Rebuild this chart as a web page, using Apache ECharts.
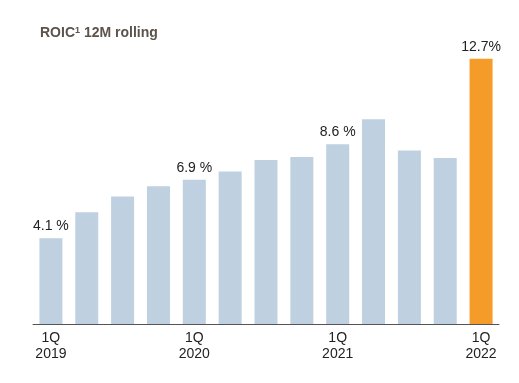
<!DOCTYPE html>
<html><head><meta charset="utf-8">
<script src="https://cdn.jsdelivr.net/npm/echarts@6/dist/echarts.min.js"></script>
<style>html,body{margin:0;padding:0;background:#fff}#c{width:519px;height:383px}</style>
</head><body><div id="c"></div>
<script>
const categories = ['1Q\n2019','2Q 2019','3Q 2019','4Q 2019','1Q\n2020','2Q 2020','3Q 2020','4Q 2020','1Q\n2021','2Q 2021','3Q 2021','4Q 2021','1Q\n2022'];
const values = [4.1, 5.35, 6.1, 6.6, 6.9, 7.3, 7.85, 8.0, 8.6, 9.8, 8.3, 7.95, 12.7];
const labelTexts = ['4.1 %','','','','6.9 %','','','','8.6 %','','','','12.7%'];
const shownTicks = [0, 4, 8, 12];
const highlightIndex = 12;

const chart = echarts.init(document.getElementById('c'));
chart.setOption({
  animation: false,
  title: {
    text: '{b|ROIC}{s|1}{b| 12M rolling}',
    left: 40, top: 26, padding: 0,
    textStyle: { rich: {
      b: { fontFamily: 'Liberation Sans', fontWeight: 'bold', fontSize: 14, color: '#5b534c' },
      s: { fontFamily: 'Liberation Sans', fontWeight: 'bold', fontSize: 9, color: '#5b534c', verticalAlign: 'top', padding: [0,0,6,0] }
    } }
  },
  grid: { left: 33, right: 20, top: 42, bottom: 59 },
  xAxis: {
    type: 'category', data: categories,
    axisLine: { lineStyle: { color: '#555', width: 1 } },
    axisTick: { show: false },
    axisLabel: {
      interval: (i) => shownTicks.includes(i),
      formatter: (v, i) => shownTicks.includes(i) ? v : '',
      color: '#222', fontFamily: 'Liberation Sans', fontSize: 14, lineHeight: 16, margin: 6
    }
  },
  yAxis: { type: 'value', min: 0, max: 13.5, show: false, splitLine: { show: false } },
  series: [{
    type: 'bar', barWidth: 23,
    data: values.map((v, i) => ({
      value: v,
      itemStyle: { color: i === highlightIndex ? '#f59b2a' : '#bfd0e0' },
      label: { show: labelTexts[i] !== '', formatter: labelTexts[i] }
    })),
    label: { position: 'top', distance: 5, color: '#222', fontFamily: 'Liberation Sans', fontSize: 14 }
  }]
});
</script></body></html>
